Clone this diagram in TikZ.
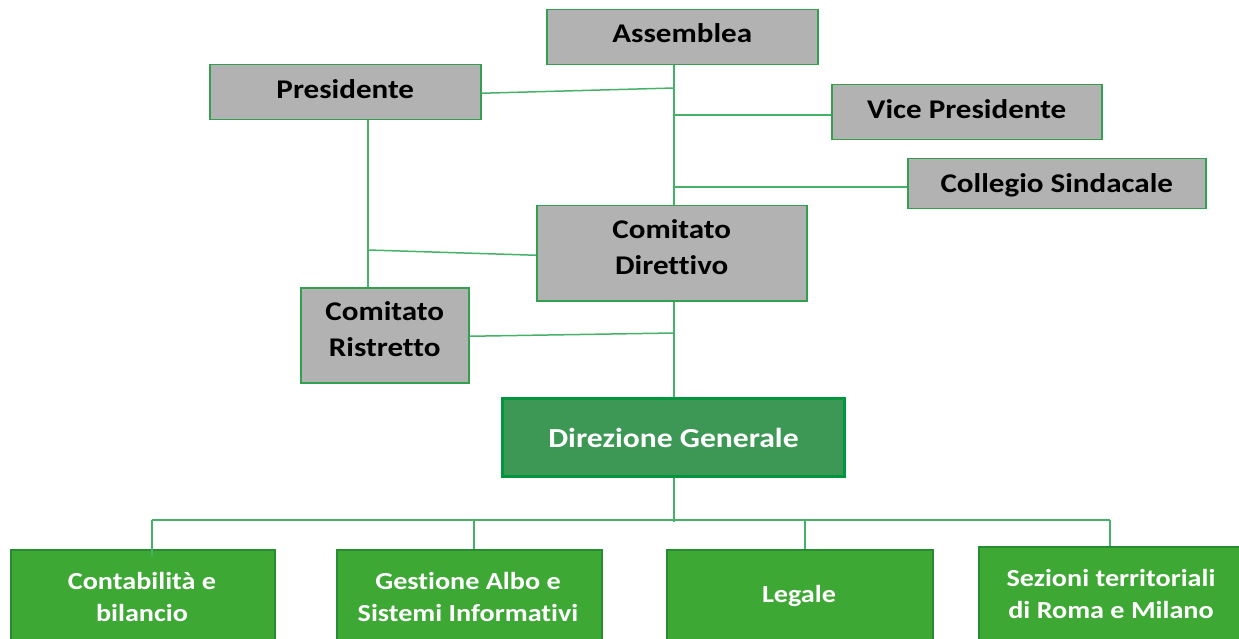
\documentclass[tikz,border=0pt]{standalone}
\usepackage{fontspec}
\setmainfont{Carlito}[FakeStretch=1.15, Ligatures=NoCommon]
\definecolor{boxgray}{RGB}{178,178,178}
\definecolor{grayborder}{RGB}{50,160,80}
\definecolor{linkgreen}{RGB}{70,178,105}
\definecolor{dirfill}{RGB}{61,152,85}
\definecolor{dirborder}{RGB}{0,150,64}
\definecolor{unitfill}{RGB}{62,168,53}
\definecolor{unitborder}{RGB}{40,140,50}
\newcommand{\onel}[2]{\raisebox{#1}[0pt][0pt]{#2}}
\newcommand{\twol}[3]{\raisebox{#1}[0pt][0pt]{\begin{tabular}[b]{@{}c@{}}#2\\#3\end{tabular}}}
\tikzset{
  graybox/.style={draw=grayborder, line width=1.5pt, fill=boxgray, anchor=north west,
    inner sep=0pt, align=center, font=\fontsize{27}{36}\selectfont\bfseries, text=black},
  dirbox/.style={draw=dirborder, line width=3pt, fill=dirfill, anchor=north west,
    inner sep=0pt, align=center, font=\fontsize{27.5}{33}\selectfont\bfseries, text=white},
  unitbox/.style={draw=unitborder, line width=1.5pt, fill=unitfill, anchor=north west,
    inner sep=0pt},
  unittext/.style={font=\fontsize{24.5}{32}\selectfont\bfseries, text=white, align=center},
  link/.style={draw=linkgreen, line width=1.5pt}
}
\begin{document}
\begin{tikzpicture}[x=1pt,y=-1pt]
\useasboundingbox (0,0) rectangle (1239,639);
\coordinate (jPres) at (674,88);
\coordinate (jVice) at (674,115);
\coordinate (jColl) at (674,187);
\coordinate (jRis) at (674,333);
\coordinate (jDir) at (368,250);
\coordinate (busL) at (152,520);
\coordinate (busR) at (1110,520);
\coordinate (busM) at (674,522);
\coordinate (busG) at (474,520);
\coordinate (busLeg) at (805,520);

\node[graybox, minimum width=271pt, minimum height=55pt] (ass) at (546,9) {\onel{-5.5pt}{Assemblea}};
\node[graybox, minimum width=271pt, minimum height=55pt] (pres) at (209,64) {\onel{-6pt}{Presidente}};
\node[graybox, minimum width=270pt, minimum height=55pt] (vice) at (831,84) {\onel{-6.5pt}{Vice Presidente}};
\node[graybox, minimum width=298pt, minimum height=50pt] (coll) at (907,158) {\onel{-9pt}{Collegio Sindacale}};
\node[graybox, minimum width=270pt, minimum height=95pt] (cdir) at (536,205) {\twol{-21.5pt}{Comitato}{Direttivo}};
\node[graybox, minimum width=168pt, minimum height=95pt] (cris) at (300,287) {\twol{-21.5pt}{Comitato}{Ristretto}};
\node[dirbox, minimum width=342pt, minimum height=78pt] (dg) at (501,397) {Direzione Generale};

\node[unitbox, minimum width=264pt, minimum height=100pt] (cont) at (10,549) {};
\node[unitbox, minimum width=265pt, minimum height=100pt] (gest) at (336,549) {};
\node[unitbox, minimum width=266pt, minimum height=100pt] (leg) at (666,549) {};
\node[unitbox, minimum width=267pt, minimum height=100pt] (sez) at (978,546) {};
\node[unittext] (contT) at (142,597) {Contabilità e\\bilancio};
\node[unittext] (gestT) at (468,597) {Gestione Albo e\\Sistemi Informativi};
\node[unittext] (legT) at (799,596) {Legale};
\node[unittext] (sezT) at (1111,594) {Sezioni territoriali\\di Roma e Milano};

\draw[link] (ass.south -| jPres) -- (cdir.north -| jPres);
\draw[link] (cdir.south -| jPres) -- (dg.north -| jPres);
\draw[link] ([yshift=-1pt]pres.east) -- (jPres);
\draw[link] (jVice) -- (vice.west |- jVice);
\draw[link] (jColl) -- (coll.west |- jColl);
\draw[link] (pres.south -| jDir) -- (cris.north -| jDir);
\draw[link] (jDir) -- ([yshift=-2pt]cdir.west);
\draw[link] ([yshift=-1pt]cris.east) -- (jRis);
\draw[link] (dg.south -| busM) -- (busM);
\draw[link] (busL) -- (busR);
\draw[link] (busL) -- ([yshift=-7pt]cont.north -| busL);
\draw[link] (busG) -- (gest.north -| busG);
\draw[link] (busLeg) -- (leg.north -| busLeg);
\draw[link] (busR) -- (sez.north -| busR);
\end{tikzpicture}
\end{document}
